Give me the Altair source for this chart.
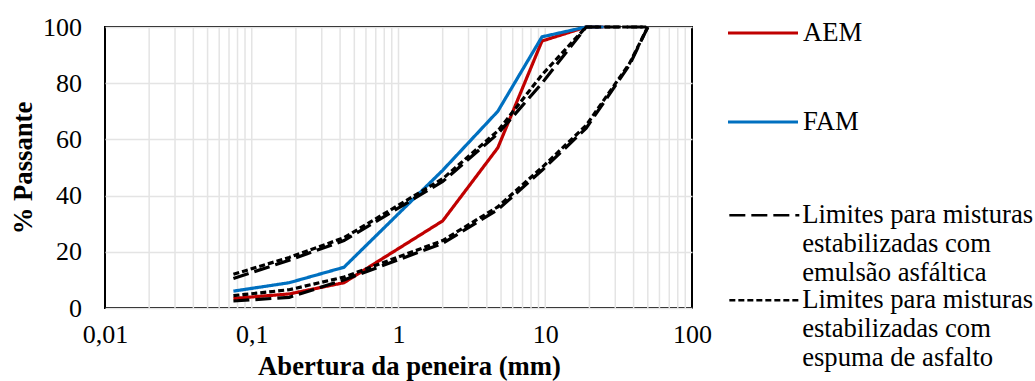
import altair as alt
import pandas as pd

# ---- data ----
peneiras = [0.075, 0.18, 0.425, 2.0, 4.75, 9.5, 19.0, 25.0, 37.5, 50.0]
aem      = [3.4, 5.0, 9.0, 31.0, 57.0, 95.0, 100.0, 100.0, None, None]
fam      = [6.0, 9.0, 14.5, 49.0, 70.0, 96.5, 100.0, 100.0, None, None]
emul_sup = [10.5, 17.0, 24.0, 45.0, 62.0, 80.0, 100.0, 100.0, 100.0, 100.0]
emul_inf = [2.5, 3.8, 10.0, 23.0, 35.0, 49.0, 64.0, None, 86.5, 100.0]
esp_sup  = [12.0, 18.0, 25.0, 46.0, 63.0, 83.0, 100.0, 100.0, 100.0, 100.0]
esp_inf  = [4.4, 6.5, 11.0, 24.0, 36.0, 50.0, 65.0, None, 87.0, 100.0]

y_ticks = [0, 20, 40, 60, 80, 100]
x_ticks = [0.01, 0.1, 1, 10, 100]
x_grid = [round(k * 10.0 ** e, 4) for e in (-2, -1, 0, 1) for k in range(1, 10)][1:]

lab_emul = "Limites para misturas|estabilizadas com|emulsão asfáltica"
lab_esp = "Limites para misturas|estabilizadas com|espuma de asfalto"

series = [
    ("AEM", "AEM", aem),
    ("FAM", "FAM", fam),
    ("emul_sup", lab_emul, emul_sup),
    ("emul_inf", lab_emul, emul_inf),
    ("esp_sup", lab_esp, esp_sup),
    ("esp_inf", lab_esp, esp_inf),
]
rows = []
for linha, serie, vals in series:
    for x, v in zip(peneiras, vals):
        if v is not None:
            rows.append({"linha": linha, "serie": serie, "tipo": serie,
                         "Abertura": x, "Passante": v})
df = pd.DataFrame(rows)
grid_df = pd.DataFrame({"Abertura": x_grid})

color_domain = ["AEM", "FAM", lab_emul, lab_esp]
dash_domain = [lab_emul, lab_esp, "AEM", "FAM"]
FONT = "Liberation Serif"
FS = 26.67

xscale = alt.Scale(type="log", domain=[0.01, 100], nice=False)
yscale = alt.Scale(domain=[0, 100], nice=False)

xaxis = alt.Axis(values=x_ticks, grid=False, domain=False, ticks=False, tickSize=0,
                 labelExpr="replace(format(datum.value, '~g'), '.', ',')",
                 labelFlush=False, labelFont=FONT, labelFontSize=26, labelColor="black",
                 labelPadding=13, title="Abertura da peneira (mm)",
                 titleFont=FONT, titleFontSize=FS, titleFontWeight="bold",
                 titleColor="black", titleX=304, titleY=66,
                 titleAlign="center", titleBaseline="alphabetic")

grid = alt.Chart(grid_df).mark_rule(color="#e4e4e4", strokeWidth=1.5).encode(
    x=alt.X("Abertura:Q", scale=xscale, axis=xaxis)
)

lines = alt.Chart(df).mark_line().encode(
    x=alt.X("Abertura:Q", scale=xscale, axis=xaxis),
    y=alt.Y("Passante:Q", scale=yscale,
            axis=alt.Axis(values=y_ticks, grid=True, gridColor="#e4e4e4", gridWidth=1.5,
                          domain=False, ticks=False, tickSize=0,
                          labelFont=FONT, labelFontSize=26, labelColor="black",
                          labelPadding=23.5, title="% Passante",
                          titleFont=FONT, titleFontSize=FS, titleFontWeight="bold",
                          titleColor="black", titleX=-74, titleY=140.5, titleAngle=270,
                          titleAlign="center", titleBaseline="alphabetic")),
    color=alt.Color("serie:N",
                    scale=alt.Scale(domain=color_domain,
                                    range=["#C00000", "#0070C0", "black", "black"]),
                    legend=alt.Legend(title=None, orient="none", legendX=621, legendY=-31,
                                      values=["AEM", "FAM"], symbolType="stroke",
                                      symbolSize=4900, symbolStrokeWidth=3.5,
                                      labelFont=FONT, labelFontSize=FS, labelColor="black",
                                      labelOffset=3, rowPadding=38, padding=0,
                                      labelLimit=400, labelBaseline="middle")),
    strokeDash=alt.StrokeDash("tipo:N",
                              scale=alt.Scale(domain=dash_domain,
                                              range=[[16, 6], [6, 3], [1, 0], [1, 0]]),
                              legend=alt.Legend(title=None, orient="none", legendX=646,
                                                legendY=175, values=[lab_emul, lab_esp],
                                                symbolType="M-4,0L4,0",
                                                symbolSize=306.25, symbolStrokeWidth=2.5,
                                                symbolStrokeColor="black",
                                                labelExpr="split(datum.label, '|')",
                                                labelFont=FONT, labelFontSize=FS,
                                                labelColor="black", labelOffset=24.5,
                                                rowPadding=0, padding=0, labelLimit=400,
                                                labelBaseline="middle")),
    strokeWidth=alt.StrokeWidth("serie:N",
                                scale=alt.Scale(domain=color_domain, range=[3.2, 3.2, 2.4, 2.4]),
                                legend=None),
    detail="linha:N",
)

chart = alt.layer(grid, lines).properties(
    width=587, height=281,
    autosize=alt.AutoSizeParams(type="none"),
    padding={"left": 105, "top": 27, "right": 343, "bottom": 73},
).configure_view(stroke="black", strokeWidth=2)

chart.save("out.html", embed_options={"renderer": "svg", "actions": False})
